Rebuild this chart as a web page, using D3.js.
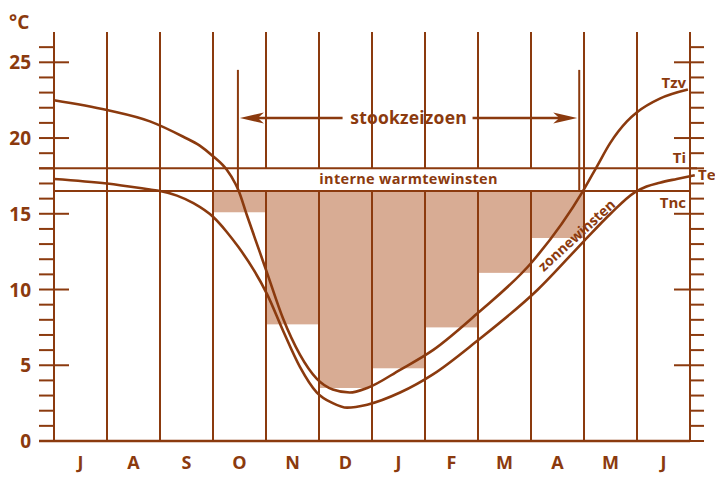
<!DOCTYPE html>
<html lang="nl">
<head>
<meta charset="UTF-8">
<title>stookzeizoen</title>
<script src="https://d3js.org/d3.v7.min.js"></script>
<style>
  *{margin:0;padding:0}
  body{background:#fff}
  svg text{font-family:"Open Sans","Noto Sans",sans-serif;font-weight:700;fill:#8b3a0e}
</style>
</head>
<body>
<div id="chart"></div>
<script>
  // maanden (juli t/m juni)
  var months = ['J','A','S','O','N','D','J','F','M','A','M','J'];
  var yTicks = [0, 5, 10, 15, 20, 25];

  // Tzv-curve (positie in maanden vanaf begin juli, temperatuur in °C)
  var tzvMonth = [0, 1, 1.81, 2.43, 2.75, 3.0, 3.26, 3.42, 3.48, 3.64, 3.89, 4.02, 4.32, 4.64, 4.96, 5.26, 5.58, 5.91, 6.53, 7.15, 7.98, 9.04, 9.98, 10.24, 10.49, 10.81, 11.0, 11.43, 11.96];
  var tzvTemp  = [22.5, 21.85, 21.1, 20.1, 19.5, 18.8, 17.9, 17.0, 16.55, 14.9, 12.4, 11.1, 8.1, 5.7, 4.1, 3.4, 3.2, 3.5, 4.7, 6.0, 8.4, 11.9, 16.5, 18.1, 19.65, 21.1, 21.7, 22.6, 23.2];

  // Te-curve
  var teMonth = [0, 1, 1.81, 2.0, 2.32, 2.63, 3.0, 3.26, 3.48, 3.75, 4.02, 4.32, 4.64, 4.96, 5.26, 5.53, 5.91, 6.53, 7.15, 7.98, 9.13, 10.0, 10.5, 10.95, 11.18, 11.43, 11.75, 12.09];
  var teTemp  = [17.3, 17.0, 16.6, 16.5, 16.2, 15.7, 14.8, 13.8, 12.8, 11.4, 9.7, 7.3, 4.9, 3.2, 2.5, 2.2, 2.4, 3.2, 4.4, 6.6, 10.0, 13.2, 15.0, 16.4, 16.8, 17.05, 17.3, 17.55];

  // maandelijkse ondergrens van de warmtebehoefte (O t/m A)
  var barMonths = [3, 4, 5, 6, 7, 8, 9];
  var barBottom = [15.1, 7.7, 3.5, 4.8, 7.5, 11.1, 13.4];

  var Ti = 18, Tnc = 16.5;
  var seasonStart = 3.47, seasonEnd = 9.91, seasonTop = 24.5;

  var width = 715, height = 479;
  var col = '#8b3a0e', fillCol = '#d8ac94';

  var svg = d3.select('#chart').append('svg')
      .attr('width', width).attr('height', height);

  var x = d3.scaleLinear().domain([0, 12]).range([54, 690]);
  var y = d3.scaleLinear().domain([0, 25]).range([441, 62.3]);
  var yTop = y(27);

  /* balken warmtebehoefte */
  svg.append('g').selectAll('rect')
      .data(barMonths)
      .enter().append('rect')
      .attr('x', function (d) { return x(d); })
      .attr('y', y(Tnc))
      .attr('width', x(1) - x(0))
      .attr('height', function (d, i) { return y(barBottom[i]) - y(Tnc); })
      .attr('fill', fillCol);

  /* verticale maandlijnen */
  svg.append('g').selectAll('line')
      .data(d3.range(13))
      .enter().append('line')
      .attr('x1', x).attr('x2', x)
      .attr('y1', y(0)).attr('y2', yTop)
      .attr('stroke', col).attr('stroke-width', 2);

  /* witte band interne warmtewinsten */
  svg.append('rect')
      .attr('x', x(seasonStart)).attr('y', y(Ti))
      .attr('width', x(seasonEnd) - x(seasonStart))
      .attr('height', y(Tnc) - y(Ti))
      .attr('fill', '#fff');

  // Ti en Tnc lijnen
  svg.append('line')
      .attr('x1', 39).attr('x2', 697)
      .attr('y1', y(Ti)).attr('y2', y(Ti))
      .attr('stroke', col).attr('stroke-width', 2);
  svg.append('line')
      .attr('x1', x(0)).attr('x2', x(12))
      .attr('y1', y(Tnc)).attr('y2', y(Tnc))
      .attr('stroke', col).attr('stroke-width', 2);

  /* assen + streepjes */
  var minor = d3.range(0, 27);
  var ax = svg.append('g');
  ax.selectAll('.lt').data(minor).enter().append('line')
      .attr('x1', 39).attr('x2', function (d) { return d % 5 === 0 ? 69 : 54; })
      .attr('y1', y).attr('y2', y)
      .attr('stroke', col).attr('stroke-width', 2);
  ax.selectAll('.rt').data(minor).enter().append('line')
      .attr('x1', function (d) { return d % 5 === 0 ? 674 : 690; }).attr('x2', 704)
      .attr('y1', y).attr('y2', y)
      .attr('stroke', col).attr('stroke-width', 2);
  ax.append('line')
      .attr('x1', 39).attr('x2', x(12))
      .attr('y1', y(0)).attr('y2', y(0))
      .attr('stroke', col).attr('stroke-width', 2.5);

  ax.selectAll('.yl').data(yTicks).enter().append('text')
      .attr('x', 31).attr('y', function (d) { return y(d) + 7; })
      .attr('text-anchor', 'end')
      .style('font-size', '19px')
      .text(function (d) { return d; });
  ax.append('text').attr('x', 9).attr('y', 29)
      .style('font-size', '19px').text('°C');

  ax.selectAll('.ml').data(months).enter().append('text')
      .attr('x', function (d, i) { return x(i + 0.5); })
      .attr('y', 469)
      .attr('text-anchor', 'middle')
      .style('font-size', '18px')
      .text(function (d) { return d; });

  /* curves */
  var line = d3.line()
      .x(function (d) { return x(d[0]); })
      .y(function (d) { return y(d[1]); })
      .curve(d3.curveMonotoneX);

  svg.append('path')
      .attr('d', line(d3.zip(tzvMonth, tzvTemp)))
      .attr('fill', 'none').attr('stroke', col).attr('stroke-width', 2.6);
  svg.append('path')
      .attr('d', line(d3.zip(teMonth, teTemp)))
      .attr('fill', 'none').attr('stroke', col).attr('stroke-width', 2.6);

  /* stookzeizoen */
  var ay = 118;
  [seasonStart, seasonEnd].forEach(function (m) {
    svg.append('line')
        .attr('x1', x(m)).attr('x2', x(m))
        .attr('y1', y(seasonTop)).attr('y2', y(Tnc))
        .attr('stroke', col).attr('stroke-width', 2);
  });
  var x0 = x(seasonStart) + 2, x1 = x(seasonEnd) - 2, mid = (x0 + x1) / 2;
  svg.append('line').attr('x1', x0 + 15).attr('x2', mid - 66)
      .attr('y1', ay).attr('y2', ay).attr('stroke', col).attr('stroke-width', 2.5);
  svg.append('line').attr('x1', mid + 64).attr('x2', x1 - 15)
      .attr('y1', ay).attr('y2', ay).attr('stroke', col).attr('stroke-width', 2.5);
  svg.append('path')
      .attr('d', 'M' + x0 + ',' + ay + 'L' + (x0 + 24) + ',' + (ay - 5.5) + 'L' + (x0 + 18) + ',' + ay + 'L' + (x0 + 24) + ',' + (ay + 5.5) + 'Z')
      .attr('fill', col);
  svg.append('path')
      .attr('d', 'M' + x1 + ',' + ay + 'L' + (x1 - 24) + ',' + (ay - 5.5) + 'L' + (x1 - 18) + ',' + ay + 'L' + (x1 - 24) + ',' + (ay + 5.5) + 'Z')
      .attr('fill', col);
  svg.append('text').attr('x', mid).attr('y', ay + 6)
      .attr('text-anchor', 'middle').style('font-size', '17.5px')
      .style('letter-spacing', '0.2px')
      .text('stookzeizoen');

  svg.append('text').attr('x', mid).attr('y', 184)
      .attr('text-anchor', 'middle').style('font-size', '14.5px')
      .style('letter-spacing', '0.3px')
      .text('interne warmtewinsten');

  svg.append('text')
      .attr('transform', 'translate(580,239) rotate(-42.5)')
      .attr('text-anchor', 'middle').style('font-size', '14px')
      .text('zonnewinsten');

  /* labels rechts */
  var rl = [['Tzv', 686, 88, 'end'], ['Ti', 686, 163, 'end'], ['Te', 698, 180, 'start'], ['Tnc', 686, 208, 'end']];
  svg.selectAll('.rl').data(rl).enter().append('text')
      .attr('x', function (d) { return d[1]; })
      .attr('y', function (d) { return d[2]; })
      .attr('text-anchor', function (d) { return d[3]; })
      .style('font-size', '15px')
      .text(function (d) { return d[0]; });
</script>
</body>
</html>
